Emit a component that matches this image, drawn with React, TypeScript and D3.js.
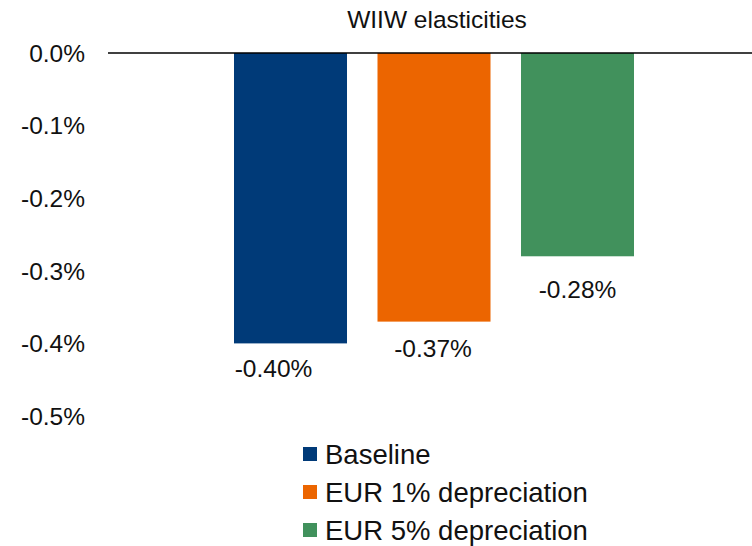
import React from "react";
import * as d3 from "d3";

// Series shown as bars in a single category
const seriesNames = ["Baseline", "EUR 1% depreciation", "EUR 5% depreciation"];
const seriesValues = [-0.4, -0.37, -0.28];
const seriesColors = ["#003A78", "#EC6500", "#41915C"];
const yTicks = [0, -0.1, -0.2, -0.3, -0.4, -0.5];
const chartTitle = "WIIW elasticities";

// Manual label placement tweaks (dx, dy) per series
const labelNudgeX = [-17, -1, 0];
const labelNudgeY = [0, 1, 8];

const W = 752;
const H = 546;
const FONT = "'Liberation Sans', Arial, sans-serif";
const TEXT = "#111";

export default function App() {
  const y = d3.scaleLinear().domain([-0.5, 0]).range([416, 53]);
  const x = d3
    .scaleBand<string>()
    .domain(seriesNames)
    .range([234, 634])
    .paddingInner(0.2125)
    .paddingOuter(0);
  const fmt = (v: number, digits: number) =>
    (v === 0 ? 0 : v).toFixed(digits) + "%";

  return (
    <svg
      width={W}
      height={H}
      style={{ position: "absolute", left: 0, top: 0, background: "#fff" }}
      fontFamily={FONT}
    >
      <text x={437} y={28} textAnchor="middle" fontSize={24.5} fill={TEXT}>
        {chartTitle}
      </text>

      {yTicks.map((t) => (
        <text
          key={t}
          x={85}
          y={y(t)}
          dy="0.36em"
          textAnchor="end"
          fontSize={24.5}
          fill={TEXT}
        >
          {fmt(t, 1)}
        </text>
      ))}

      {seriesNames.map((name, i) => {
        const v = seriesValues[i];
        const x0 = x(name)!;
        return (
          <g key={name}>
            <rect
              x={x0}
              y={y(0)}
              width={x.bandwidth()}
              height={y(v) - y(0)}
              fill={seriesColors[i]}
            />
            <text
              x={x0 + x.bandwidth() / 2 + labelNudgeX[i]}
              y={y(v) + 34 + labelNudgeY[i]}
              textAnchor="middle"
              fontSize={24.5}
              fill={TEXT}
            >
              {fmt(v, 2)}
            </text>
          </g>
        );
      })}

      <line x1={108} x2={W} y1={y(0)} y2={y(0)} stroke="#000" strokeWidth={1.5} />

      {seriesNames.map((name, i) => {
        const cy = 454 + i * 38;
        return (
          <g key={"lg" + name}>
            <rect x={303} y={cy - 7} width={14} height={14} fill={seriesColors[i]} />
            <text x={325} y={cy} dy="0.36em" fontSize={27.5} fill={TEXT}>
              {name}
            </text>
          </g>
        );
      })}
    </svg>
  );
}
